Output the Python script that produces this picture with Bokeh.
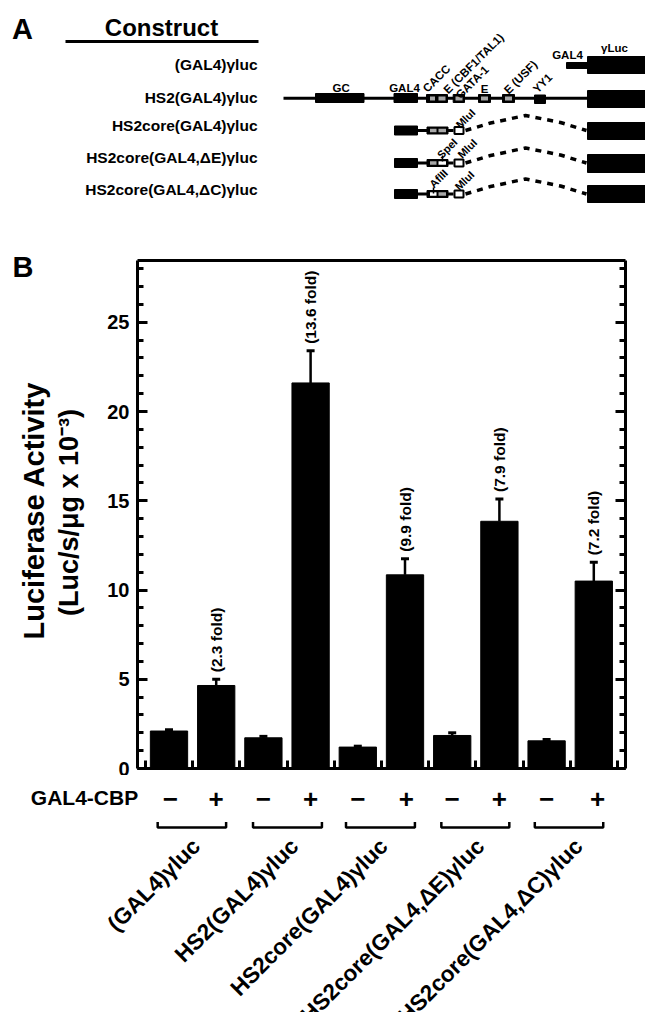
from math import pi
from bokeh.plotting import figure
from bokeh.layouts import column, row
from bokeh.embed import file_html
from bokeh.resources import INLINE
from bokeh.core.properties import value
from bokeh.models import (Range1d, LinearAxis, FixedTicker, Whisker, TeeHead,
                          ColumnDataSource)

FONT = "Liberation Sans"

# ---------- data ----------
constructs = ["(GAL4)γluc", "HS2(GAL4)γluc", "HS2core(GAL4)γluc",
              "HS2core(GAL4,ΔE)γluc", "HS2core(GAL4,ΔC)γluc"]
bar_index = [0, 1, 2, 3, 4, 5, 6, 7, 8, 9]
activity = [2.1, 4.65, 1.72, 21.6, 1.2, 10.85, 1.85, 13.85, 1.55, 10.5]
err_top = [2.17, 5.0, 1.8, 23.4, 1.25, 11.75, 2.0, 15.1, 1.62, 11.55]
fold_index = [1, 3, 5, 7, 9]
fold_labels = ["(2.3 fold)", "(13.6 fold)", "(9.9 fold)", "(7.9 fold)", "(7.2 fold)"]
y_major = [0, 5, 10, 15, 20, 25]
y_minor = list(range(0, 29))
x_ticks = [-0.5, 0.5, 1.5, 2.5, 3.5, 4.5, 5.5, 6.5, 7.5, 8.5, 9.5]
signs = ["−", "+", "−", "+", "−", "+", "−", "+", "−", "+"]
sign_x = [0.03, 1.0, 2.0, 3.0, 4.0, 5.03, 6.0, 7.0, 8.0, 9.08]
bracket_lo = [-0.24, 1.78, 3.75, 5.77, 7.75]
bracket_hi = [1.21, 3.24, 5.21, 7.21, 9.2]
label_end = [0.58, 2.66, 4.55, 6.6, 8.68]

# ---------- scale of the bar panel ----------
PX_PER_BAR = 47.2
BAR0_PX = 168.5
STRIP = 90


def bar_units(px):
    return (px - BAR0_PX) / PX_PER_BAR


def blank(width, height, xr, yr):
    f = figure(width=width, height=height, x_range=Range1d(*xr), y_range=Range1d(*yr),
               toolbar_location=None, output_backend="svg", min_border=0,
               outline_line_color=None, frame_align=False)
    f.axis.visible = False
    f.grid.visible = False
    return f


def bold(fig, x, y, texts, size, angle=0.0, align="center", color="black"):
    fig.text(x=x, y=y, text=texts, angle=angle, text_font=value(FONT),
             text_font_style="bold", text_font_size=size, text_align=align,
             text_baseline="middle", text_color=color)


# ---------- panel A: schematic ----------
a = blank(645, 240, (0, 645), (240, 0))
bold(a, [22], [28], ["A"], "29px")
bold(a, [161], [27], ["Construct"], "24px")
a.line([65, 258], [41, 41], line_color="black", line_width=3)
bold(a, [257] * 5, [63.5, 96.5, 125, 156.5, 189], constructs, "15.5px", align="right")

# big reporter boxes and GAL4 boxes
a.quad(left=[587] * 5, right=[645] * 5, top=[56, 90, 122, 154, 185],
       bottom=[73, 107, 139, 172, 202], color="black")
a.quad(left=[566], right=[588], top=[62], bottom=[68], color="black")
# HS2 line and solid elements
a.line([283, 588], [97.7, 97.7], line_color="black", line_width=3)
a.quad(left=[315, 393.5, 534], right=[363.5, 417, 545], top=[93, 93, 94.5],
       bottom=[102, 102, 103], color="black")
# black framed elements on the HS2 line
a.quad(left=[426, 452.7, 478, 502], right=[447, 464, 490, 514], top=[94] * 4,
       bottom=[102] * 4, color="black")
a.quad(left=[429.5, 438, 455, 480.5, 504.5], right=[434.5, 445, 462, 487.5, 511.5],
       top=[96] * 5, bottom=[100] * 5, color="#a8a8a8", line_color=None)

# core rows
for yc, first, second in [(130, "#a8a8a8", "#a8a8a8"), (162.5, "#a8a8a8", "white"),
                          (193.5, "white", "#a8a8a8")]:
    a.line([417, 453], [yc, yc], line_color="black", line_width=3)
    a.quad(left=[394], right=[417], top=[yc - 4.5], bottom=[yc + 4.5], color="black")
    a.quad(left=[426.5], right=[447.5], top=[yc - 3.5], bottom=[yc + 3.5], color="black")
    a.quad(left=[429.5, 438], right=[436, 445.5], top=[yc - 1.8] * 2, bottom=[yc + 1.8] * 2,
           fill_color=[first, second], line_color=None)
    a.quad(left=[454], right=[463], top=[yc - 3.5], bottom=[yc + 3.5], fill_color="white",
           line_color="black", line_width=2)
    a.line([465, 490, 525, 560, 586], [yc, yc - 7.5, yc - 15, yc - 8, yc],
           line_color="black", line_width=3.5, line_dash="6 6")

a.segment(x0=[433], y0=[187], x1=[433], y1=[193], line_color="black", line_width=1.5)
a.segment(x0=[442], y0=[155], x1=[442], y1=[161], line_color="black", line_width=1.5)

bold(a, [567, 614, 340.7, 404, 484], [54.5, 47, 87.3, 87.3, 88],
     ["GAL4", "γLuc", "GC", "GAL4", "E"], "11.5px")
bold(a, [436, 473, 471.7, 520, 542], [78, 63, 81.7, 76.7, 82.7],
     ["CACC", "E (CBF1/TAL1)", "GATA-1", "E (USF)", "YY1"], "11.5px", angle=pi / 4)
bold(a, [465, 446.7, 466.7, 438, 464], [118, 148, 148, 178, 180],
     ["MluI", "SpeI", "MluI", "AflII", "MluI"], "11px", angle=pi / 4)

# ---------- strip left of panel B: letter and axis title ----------
s = blank(STRIP, 535, (0, STRIP), (775, 240))
bold(s, [22.5], [266], ["B"], "29px")
bold(s, [33], [510], ["Luciferase Activity"], "29px", angle=pi / 2)
bold(s, [68], [512], ["(Luc/s/μg x 10⁻³)"], "27px", angle=pi / 2)

# ---------- panel B: bars ----------
b = figure(width=645 - STRIP, height=535, toolbar_location=None, output_backend="svg",
           x_range=Range1d(bar_units(137), bar_units(625)),
           y_range=Range1d(0, 28.46), x_axis_location=None, y_axis_location=None,
           min_border_left=137 - STRIP, min_border_right=20, min_border_top=20,
           min_border_bottom=7, outline_line_color=None, frame_align=False)
b.grid.visible = False

b.vbar(x=bar_index, width=0.79, bottom=0, top=activity, color="black")
src = ColumnDataSource(dict(x=bar_index, lo=activity, hi=err_top))
b.add_layout(Whisker(source=src, base="x", lower="lo", upper="hi",
                     line_color="black", line_width=2.5,
                     upper_head=TeeHead(size=8, line_width=3, line_color="black"),
                     lower_head=None))
b.text(x=fold_index, y=[err_top[i] for i in fold_index], text=fold_labels, angle=pi / 2,
       y_offset=-7, text_font=value(FONT), text_font_style="bold",
       text_font_size="15.5px", text_align="left", text_baseline="middle",
       text_color="black")

y_ticker = FixedTicker(ticks=y_major, minor_ticks=y_minor)


def style(ax):
    ax.axis_line_width = 3
    ax.axis_line_color = "black"
    ax.major_tick_in = 10
    ax.major_tick_out = 0
    ax.minor_tick_in = 6
    ax.minor_tick_out = 0
    ax.major_tick_line_width = 3
    ax.minor_tick_line_width = 3
    ax.major_tick_line_color = "black"
    ax.minor_tick_line_color = "black"


left = LinearAxis(ticker=y_ticker)
style(left)
left.major_label_text_font = FONT
left.major_label_text_font_style = "bold"
left.major_label_text_font_size = "20px"
left.major_label_text_color = "black"
left.major_label_standoff = 8
b.add_layout(left, "left")

right = LinearAxis(ticker=y_ticker, major_label_overrides={t: "" for t in y_major},
                   major_label_standoff=0, major_label_text_font_size="1px")
style(right)
b.add_layout(right, "right")

bottom = LinearAxis(ticker=FixedTicker(ticks=x_ticks),
                    major_label_overrides={t: "" for t in x_ticks},
                    major_label_standoff=0, major_label_text_font_size="1px")
style(bottom)
bottom.major_tick_in = 8
b.add_layout(bottom, "below")

top = LinearAxis(ticker=FixedTicker(ticks=[]), major_label_standoff=0,
                 major_label_text_font_size="1px")
style(top)
b.add_layout(top, "above")

# ---------- lower labels ----------
c = blank(645, 237, (bar_units(0), bar_units(645)), (1012, 775))
bold(c, [bar_units(84)], [797], ["GAL4-CBP"], "21px")
bold(c, sign_x, [798] * 10, signs, "26px")
for lo, hi in zip(bracket_lo, bracket_hi):
    c.line([lo, lo, hi, hi], [821.5, 827, 827, 821.5], line_color="black", line_width=2.5)
bold(c, label_end, [842] * 5, constructs, "22.5px", angle=pi / 4, align="right")

page = column(a, row(s, b, spacing=0), c, spacing=0)
open("out.html", "w").write(file_html(page, INLINE))
